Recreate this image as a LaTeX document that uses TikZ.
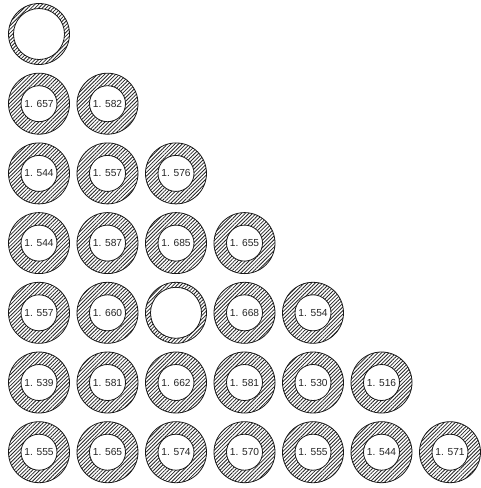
\documentclass[tikz,border=0pt]{standalone}
\usepackage{fontspec}
\setmainfont{Liberation Sans}
\usetikzlibrary{patterns.meta}
\tikzset{
  hatch/.style={pattern={Lines[angle=45, distance=2.6pt, line width=0.8pt]}, pattern color=black!85, even odd rule},
  ringline/.style={draw=black!90, line width=0.8pt},
  lbl/.style={inner sep=0pt, font=\fontsize{10.2}{12}\selectfont, text=black!85},
}
\newcommand\thickring[3]{%
  \fill[hatch] #2 circle[radius=30.5] #2 circle[radius=18];
  \draw[ringline] #2 circle[radius=30.5] #2 circle[radius=18];
  \node[lbl] (#1) at #2 {#3};}
\newcommand\thinring[2]{%
  \fill[hatch] #2 circle[radius=30.5] #2 circle[radius=25.5];
  \draw[ringline] #2 circle[radius=30.5] #2 circle[radius=25.5];
  \coordinate (#1) at #2;}
\begin{document}
\begin{tikzpicture}[x=1pt,y=-1pt]
\useasboundingbox[fill=white] (0,0) rectangle (480,488);
\def\cx#1{39+68.5*#1}
\def\ry#1{34+69.7*#1}
% row 0
\thinring{r0c0}{({\cx0},{\ry0})}
% row 1
\thickring{r1c0}{({\cx0},{\ry1})}{1. 657}
\thickring{r1c1}{({\cx1},{\ry1})}{1. 582}
% row 2
\thickring{r2c0}{({\cx0},{\ry2})}{1. 544}
\thickring{r2c1}{({\cx1},{\ry2})}{1. 557}
\thickring{r2c2}{({\cx2},{\ry2})}{1. 576}
% row 3
\thickring{r3c0}{({\cx0},{\ry3})}{1. 544}
\thickring{r3c1}{({\cx1},{\ry3})}{1. 587}
\thickring{r3c2}{({\cx2},{\ry3})}{1. 685}
\thickring{r3c3}{({\cx3},{\ry3})}{1. 655}
% row 4
\thickring{r4c0}{({\cx0},{\ry4})}{1. 557}
\thickring{r4c1}{({\cx1},{\ry4})}{1. 660}
\thinring{r4c2}{({\cx2},{\ry4})}
\thickring{r4c3}{({\cx3},{\ry4})}{1. 668}
\thickring{r4c4}{({\cx4},{\ry4})}{1. 554}
% row 5
\thickring{r5c0}{({\cx0},{\ry5})}{1. 539}
\thickring{r5c1}{({\cx1},{\ry5})}{1. 581}
\thickring{r5c2}{({\cx2},{\ry5})}{1. 662}
\thickring{r5c3}{({\cx3},{\ry5})}{1. 581}
\thickring{r5c4}{({\cx4},{\ry5})}{1. 530}
\thickring{r5c5}{({\cx5},{\ry5})}{1. 516}
% row 6
\thickring{r6c0}{({\cx0},{\ry6})}{1. 555}
\thickring{r6c1}{({\cx1},{\ry6})}{1. 565}
\thickring{r6c2}{({\cx2},{\ry6})}{1. 574}
\thickring{r6c3}{({\cx3},{\ry6})}{1. 570}
\thickring{r6c4}{({\cx4},{\ry6})}{1. 555}
\thickring{r6c5}{({\cx5},{\ry6})}{1. 544}
\thickring{r6c6}{({\cx6},{\ry6})}{1. 571}
\end{tikzpicture}
\end{document}
